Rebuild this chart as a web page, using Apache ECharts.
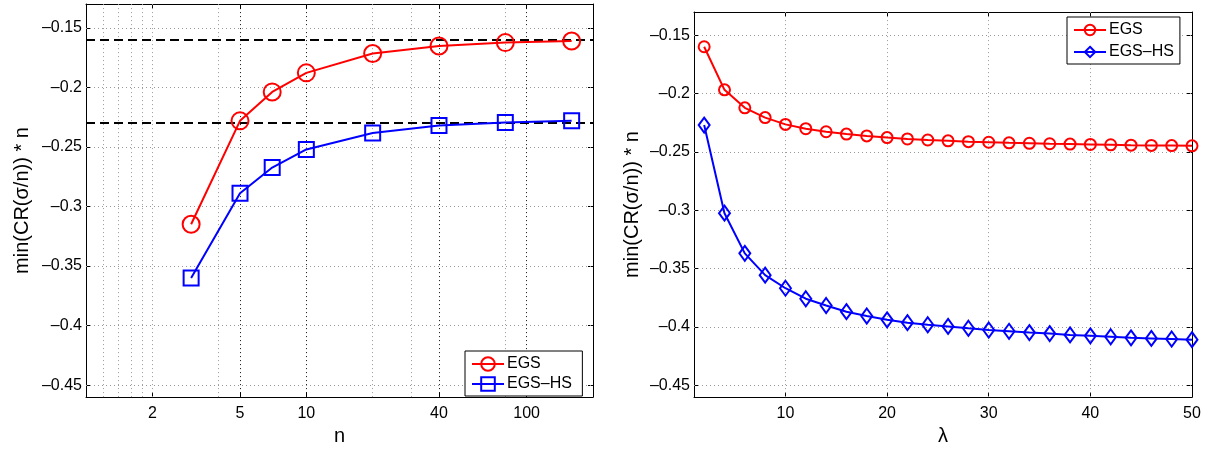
<!DOCTYPE html>
<html>
<head>
<meta charset="utf-8">
<script src="https://cdn.jsdelivr.net/npm/echarts@6/dist/echarts.min.js"></script>
<style>
html,body{margin:0;padding:0;background:#fff;}
#chart{width:1207px;height:451px;}
</style>
</head>
<body>
<div id="chart"></div>
<script>
// ---- data ----
const nValues = [3, 5, 7, 10, 20, 40, 80, 160];
const egsByN = [-0.3149, -0.2281, -0.2038, -0.1878, -0.1715, -0.1652, -0.1624, -0.1611];
const egsHsByN = [-0.3600, -0.2888, -0.2673, -0.2521, -0.2383, -0.2320, -0.2295, -0.2281];
const asymptotes = [-0.1589, -0.2259];

const lambdaValues = [2, 4, 6, 8, 10, 12, 14, 16, 18, 20, 22, 24, 26, 28, 30, 32, 34, 36, 38, 40, 42, 44, 46, 48, 50];
const egsByLambda = [-0.1598, -0.1967, -0.2121, -0.2205, -0.2263, -0.2300, -0.2326, -0.2346, -0.2362, -0.2376,
  -0.2388, -0.2397, -0.2404, -0.2411, -0.2416, -0.2421, -0.2425, -0.2429, -0.2432, -0.2435,
  -0.2438, -0.2441, -0.2443, -0.2445, -0.2447];
const egsHsByLambda = [-0.2269, -0.3024, -0.3368, -0.3555, -0.3667, -0.3757, -0.3815, -0.3868, -0.3905, -0.3938,
  -0.3962, -0.3980, -0.3994, -0.4010, -0.4025, -0.4036, -0.4047, -0.4056, -0.4067, -0.4075,
  -0.4083, -0.4092, -0.4097, -0.4102, -0.4108];

const yTicks = [-0.45, -0.4, -0.35, -0.3, -0.25, -0.2, -0.15];
const nTicks = [2, 5, 10, 40, 100];
const nMajorGrid = [5, 10, 40, 100];
const nMinorGrid = [1.2, 1.4, 1.6, 1.8, 2, 4, 20, 30, 80];
const lambdaTicks = [10, 20, 30, 40, 50];
const lambdaGrid = [10, 20, 30, 40];

const seriesNames = ['EGS', 'EGS\u2013HS'];
const yTitle = 'min(CR(\u03c3/n)) * n';

// ---- styles ----
const FONT = 'Liberation Sans, Arial, Helvetica, sans-serif';
const RED = '#ff0000', BLUE = '#0000ff';
const yRange = { min: -0.46, max: -0.13 };

function fmtY(v) { return String(Math.round(v * 1000) / 1000).replace('-', '\u2013'); }

function vLines(vals, color) {
  return vals.map(v => ({ xAxis: v, lineStyle: { color: color, type: [1, 3], width: 1 } }));
}
function hLines(vals, color) {
  return vals.map(v => ({ yAxis: v, lineStyle: { color: color, type: [1, 3], width: 1 } }));
}

function baseX(gridIndex, type, min, max, ticks, pos, name) {
  const ax = {
    type: type, gridIndex: gridIndex, min: min, max: max, position: pos,
    axisLine: { show: true, onZero: false, lineStyle: { color: '#000', width: 1 } },
    axisTick: { show: true, inside: true, length: 5, customValues: ticks, lineStyle: { color: '#000' } },
    axisLabel: { show: pos === 'bottom', customValues: ticks, margin: 8, color: '#000', fontSize: 16, fontFamily: FONT,
      formatter: v => String(Math.round(v * 1000) / 1000) },
    splitLine: { show: false },
    minorTick: { show: false }, minorSplitLine: { show: false }
  };
  if (type === 'log') ax.logBase = 10;
  if (pos === 'bottom') {
    ax.name = name; ax.nameLocation = 'middle'; ax.nameGap = 25;
    ax.nameTextStyle = { color: '#000', fontSize: 20, fontFamily: FONT };
  }
  return ax;
}
function baseY(gridIndex, pos, nameGap) {
  const ax = {
    type: 'value', gridIndex: gridIndex, min: yRange.min, max: yRange.max, position: pos,
    axisLine: { show: true, onZero: false, lineStyle: { color: '#000', width: 1 } },
    axisTick: { show: true, inside: true, length: 5, customValues: yTicks, lineStyle: { color: '#000' } },
    axisLabel: { show: pos === 'left', customValues: yTicks, margin: 4, color: '#000', fontSize: 16, fontFamily: FONT, formatter: fmtY },
    splitLine: { show: false }
  };
  if (pos === 'left') {
    ax.name = yTitle; ax.nameLocation = 'middle'; ax.nameGap = nameGap;
    ax.nameTextStyle = { color: '#000', fontSize: 20, fontFamily: FONT };
  }
  return ax;
}

const option = {
  animation: false,
  backgroundColor: '#fff',
  textStyle: { fontFamily: FONT },
  grid: [
    { left: 86, top: 4, width: 507, height: 399, containLabel: false },
    { left: 694, top: 12, width: 498, height: 392, containLabel: false }
  ],
  xAxis: [
    baseX(0, 'log', 1, 200, nTicks, 'bottom', 'n'),
    baseX(0, 'log', 1, 200, nTicks, 'top', ''),
    baseX(1, 'value', 1, 50, lambdaTicks, 'bottom', '\u03bb'),
    baseX(1, 'value', 1, 50, lambdaTicks, 'top', '')
  ],
  yAxis: [
    baseY(0, 'left', 54),
    baseY(0, 'right', 0),
    baseY(1, 'left', 52),
    baseY(1, 'right', 0)
  ],
  legend: [
    {
      left: 465, top: 351, width: 122, orient: 'vertical',
      data: seriesNames.map(n => ({ name: n + ' ' })),
      backgroundColor: '#fff', borderColor: '#000', borderWidth: 1, borderRadius: 0,
      padding: [5, 6, 4, 6], itemGap: 4, itemWidth: 32, itemHeight: 17,
      textStyle: { color: '#000', fontSize: 16, fontFamily: FONT, padding: [0, 0, 0, -2] }
    },
    {
      left: 1067, top: 17, width: 120, orient: 'vertical',
      data: seriesNames.map(n => ({ name: n })),
      backgroundColor: '#fff', borderColor: '#000', borderWidth: 1, borderRadius: 0,
      padding: [5, 6, 4, 6], itemGap: 6, itemWidth: 32, itemHeight: 13,
      textStyle: { color: '#000', fontSize: 16, fontFamily: FONT, padding: [0, 0, 0, -2] }
    }
  ],
  series: [
    // grid lines & reference lines (left)
    {
      type: 'line', xAxisIndex: 0, yAxisIndex: 0, data: [], silent: true, z: 1,
      markLine: {
        silent: true, symbol: ['none', 'none'], label: { show: false }, animation: false, z: 1,
        emphasis: { disabled: true },
        data: [].concat(vLines(nMinorGrid, '#9a9a9a'), vLines(nMajorGrid, '#111'), hLines(yTicks, '#9a9a9a'))
      }
    },
    {
      type: 'line', xAxisIndex: 0, yAxisIndex: 0, data: [], silent: true, z: 2,
      markLine: {
        silent: true, symbol: ['none', 'none'], label: { show: false }, animation: false, z: 2,
        emphasis: { disabled: true },
        data: asymptotes.map(v => ({ yAxis: v, lineStyle: { color: '#000', type: [9, 5], width: 2 } }))
      }
    },
    // grid lines (right)
    {
      type: 'line', xAxisIndex: 2, yAxisIndex: 2, data: [], silent: true, z: 1,
      markLine: {
        silent: true, symbol: ['none', 'none'], label: { show: false }, animation: false, z: 1,
        emphasis: { disabled: true },
        data: [].concat(vLines(lambdaGrid, '#9a9a9a'), hLines(yTicks, '#9a9a9a'))
      }
    },
    {
      name: seriesNames[0] + ' ', type: 'line', xAxisIndex: 0, yAxisIndex: 0, z: 5,
      data: nValues.map((x, i) => [x, egsByN[i]]),
      symbol: 'circle', symbolSize: 17, showAllSymbol: true,
      lineStyle: { color: RED, width: 2 },
      itemStyle: { color: 'rgba(255,255,255,0)', borderColor: RED, borderWidth: 2 }
    },
    {
      name: seriesNames[1] + ' ', type: 'line', xAxisIndex: 0, yAxisIndex: 0, z: 5,
      data: nValues.map((x, i) => [x, egsHsByN[i]]),
      symbol: 'rect', symbolSize: 15, showAllSymbol: true,
      lineStyle: { color: BLUE, width: 2 },
      itemStyle: { color: 'rgba(255,255,255,0)', borderColor: BLUE, borderWidth: 2 }
    },
    {
      name: seriesNames[0], type: 'line', xAxisIndex: 2, yAxisIndex: 2, z: 5,
      data: lambdaValues.map((x, i) => [x, egsByLambda[i]]),
      symbol: 'circle', symbolSize: 11, showAllSymbol: true,
      lineStyle: { color: RED, width: 2 },
      itemStyle: { color: 'rgba(255,255,255,0)', borderColor: RED, borderWidth: 2 }
    },
    {
      name: seriesNames[1], type: 'line', xAxisIndex: 2, yAxisIndex: 2, z: 5,
      data: lambdaValues.map((x, i) => [x, egsHsByLambda[i]]),
      symbol: 'diamond', symbolSize: [11, 15], showAllSymbol: true,
      lineStyle: { color: BLUE, width: 2 },
      itemStyle: { color: 'rgba(255,255,255,0)', borderColor: BLUE, borderWidth: 2 }
    }
  ]
};

const chart = echarts.init(document.getElementById('chart'), null, { renderer: 'canvas' });
chart.setOption(option);
</script>
</body>
</html>
